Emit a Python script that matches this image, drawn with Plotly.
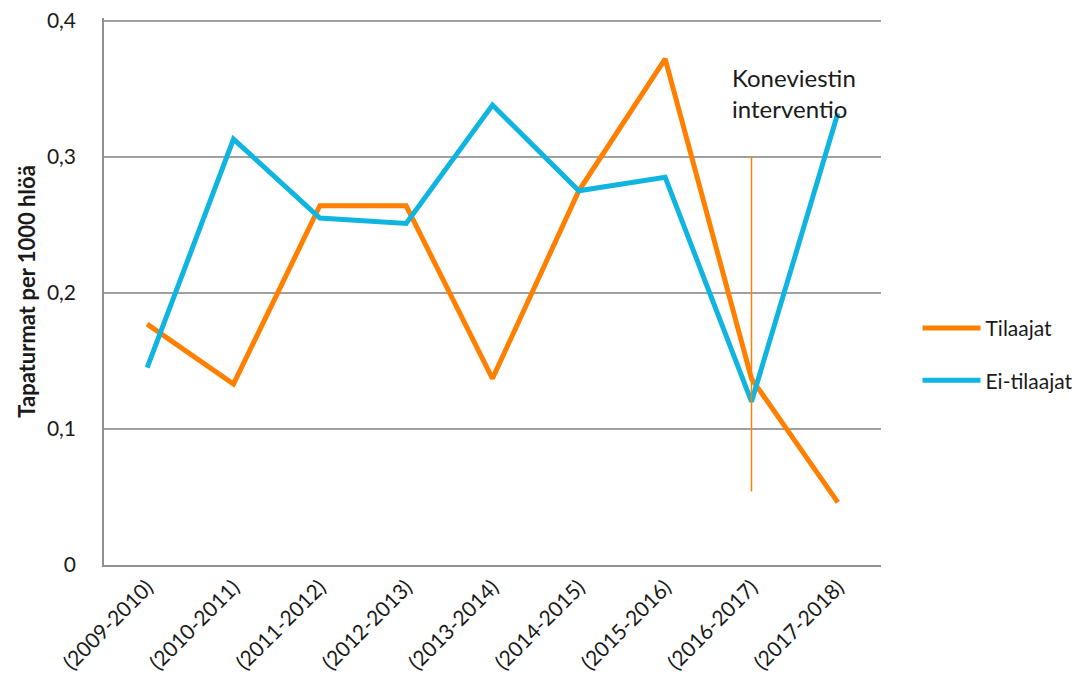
import plotly.graph_objects as go

categories = ["(2009-2010)", "(2010-2011)", "(2011-2012)", "(2012-2013)", "(2013-2014)",
              "(2014-2015)", "(2015-2016)", "(2016-2017)", "(2017-2018)"]
tilaajat = [0.177, 0.133, 0.264, 0.264, 0.137, 0.275, 0.372, 0.137, 0.046]
ei_tilaajat = [0.145, 0.313, 0.255, 0.251, 0.338, 0.275, 0.285, 0.120, 0.332]
intervention_cat = "(2016-2017)"
intervention_range = [0.054, 0.3]
y_ticks = [0, 0.1, 0.2, 0.3, 0.4]
y_ticktext = ["0", "0,1", "0,2", "0,3", "0,4"]

ORANGE = "#FF8000"
BLUE = "#10B4E0"
FONT = "Lato, 'Open Sans', sans-serif"

fig = go.Figure()
fig.add_trace(go.Scatter(x=categories, y=tilaajat, mode="lines", name="Tilaajat",
                         line=dict(color=ORANGE, width=5), legendgroup="a"))
fig.add_trace(go.Scatter(x=categories, y=ei_tilaajat, mode="lines", name="Ei-tilaajat",
                         line=dict(color=BLUE, width=5), legendgroup="b"))
fig.add_trace(go.Scatter(x=[intervention_cat, intervention_cat], y=intervention_range,
                         mode="lines", line=dict(color=ORANGE, width=1.5),
                         showlegend=False, hoverinfo="skip"))

fig.add_annotation(x=intervention_cat, y=0.4, xref="x", yref="y",
                   text="Koneviestin<br>interventio", showarrow=False,
                   xanchor="left", yanchor="top", xshift=-22, yshift=-40, align="left",
                   font=dict(family=FONT, size=24, color="#1a1a1a"))

fig.update_layout(
    width=1084, height=697,
    margin=dict(l=96, r=211, t=10, b=140),
    paper_bgcolor="white", plot_bgcolor="white",
    font=dict(family=FONT, color="#1a1a1a"),
    showlegend=True,
    legend=dict(x=1.047, y=0.385, xanchor="left", yanchor="middle",
                font=dict(family=FONT, size=21, color="#1a1a1a"),
                tracegroupgap=22, itemwidth=58, bgcolor="rgba(0,0,0,0)"),
    xaxis=dict(type="category", categoryorder="array", categoryarray=categories,
               range=[-0.5, 8.5], showgrid=False, showline=True, linecolor="#909090",
               linewidth=1.5, ticks="", tickangle=-45, automargin=False,
               tickfont=dict(family=FONT, size=21, color="#1a1a1a")),
    yaxis=dict(range=[0, 0.402], tickvals=y_ticks, ticktext=y_ticktext, automargin=False,
               showgrid=True, gridcolor="#A0A0A0", gridwidth=1.5,
               showline=True, linecolor="#909090", linewidth=1.5, zeroline=False,
               ticks="", ticklabelstandoff=22, ticklabeloverflow="allow",
               tickfont=dict(family=FONT, size=21, color="#1a1a1a"),
               title=dict(text="<b>Tapaturmat per 1000 hlöä</b>", standoff=5,
                          font=dict(family=FONT, size=22, color="#1a1a1a"))),
)

fig.write_html("out.html")
